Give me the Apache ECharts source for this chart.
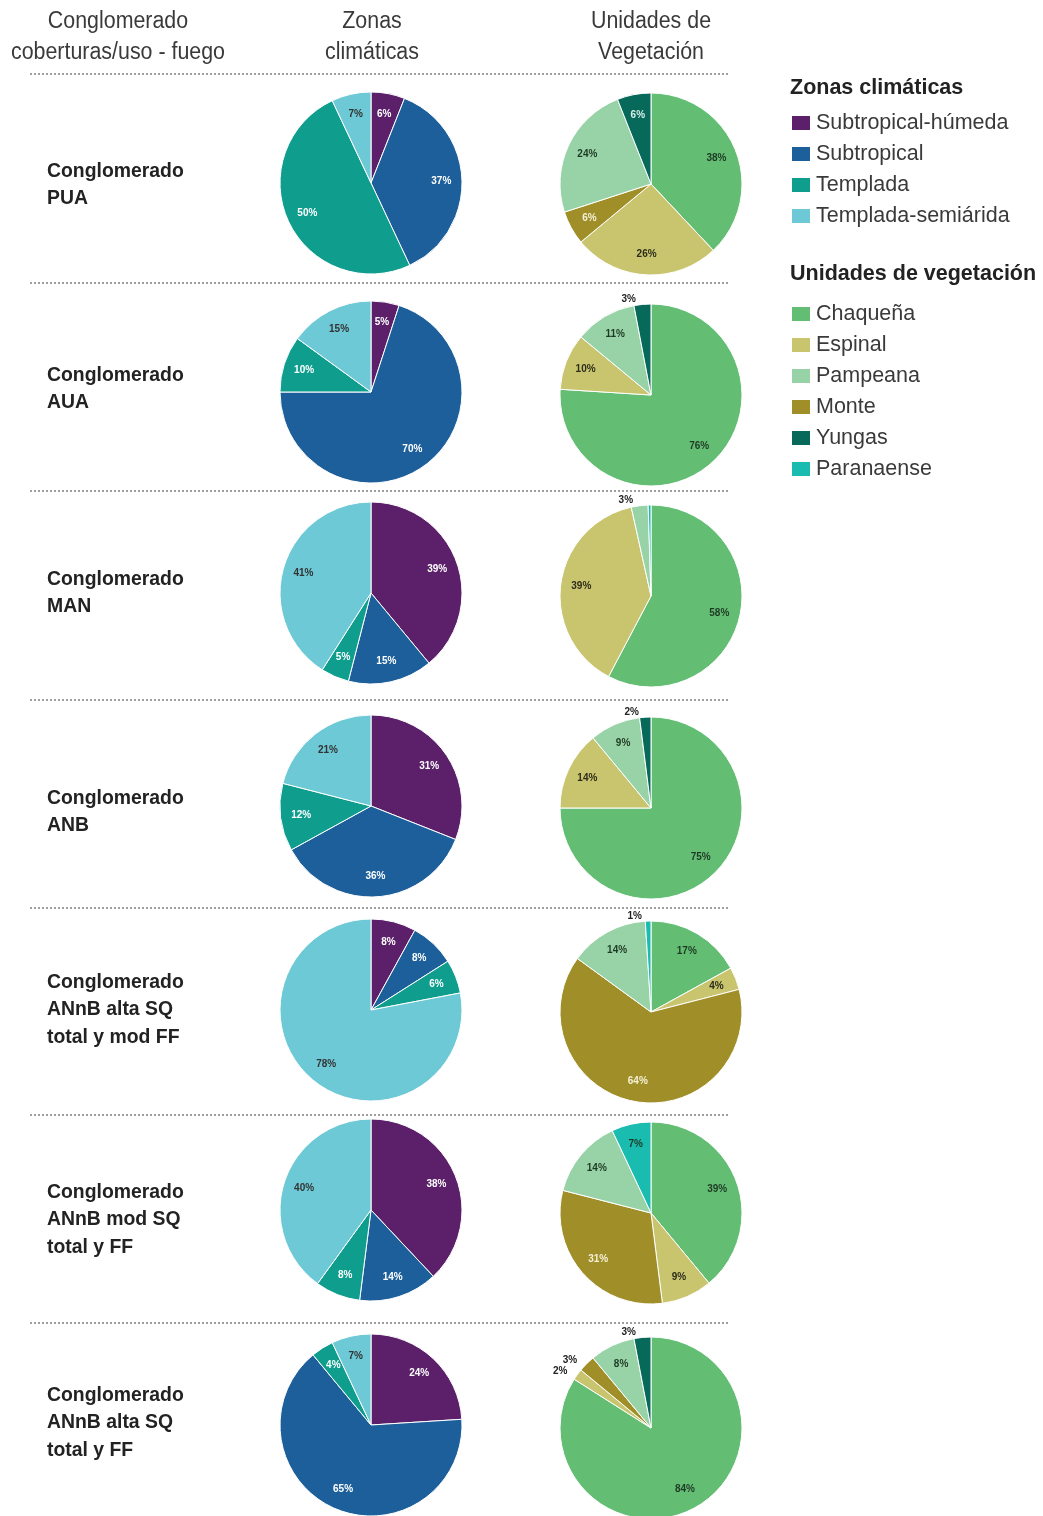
<!DOCTYPE html>
<html>
<head>
<meta charset="utf-8">
<script src="https://cdn.jsdelivr.net/npm/echarts@6/dist/echarts.min.js"></script>
<style>
html,body{margin:0;padding:0;background:#fff;}
#chart{width:1043px;height:1516px;}
</style>
</head>
<body>
<div id="chart"></div>
<script>
// ---------- DATA ----------
const climateNames = ['Subtropical-húmeda', 'Subtropical', 'Templada', 'Templada-semiárida'];
const vegNames = ['Chaqueña', 'Espinal', 'Pampeana', 'Monte', 'Yungas', 'Paranaense'];
const vegPieOrder = ['Chaqueña', 'Espinal', 'Monte', 'Pampeana', 'Yungas', 'Paranaense'];

const rowLabels = [
  ['Conglomerado', 'PUA'],
  ['Conglomerado', 'AUA'],
  ['Conglomerado', 'MAN'],
  ['Conglomerado', 'ANB'],
  ['Conglomerado', 'ANnB alta SQ', 'total y mod FF'],
  ['Conglomerado', 'ANnB mod SQ', 'total y FF'],
  ['Conglomerado', 'ANnB alta SQ', 'total y FF']
];

// climate values, order = climateNames
const climatePUA = [6, 37, 50, 7];
const climateAUA = [5, 70, 10, 15];
const climateMAN = [39, 15, 5, 41];
const climateANB = [31, 36, 12, 21];
const climateANnB1 = [8, 8, 6, 78];
const climateANnB2 = [38, 14, 8, 40];
const climateANnB3 = [24, 65, 4, 7];

// vegetation values, order = vegNames
const vegPUA = [38, 26, 24, 6, 6, 0];
const vegAUA = [76, 10, 11, 0, 3, 0];
const vegMAN = [58, 39, 3, 0, 0, 0.5];
const vegANB = [75, 14, 9, 0, 2, 0];
const vegANnB1 = [17, 4, 14, 64, 0, 1];
const vegANnB2 = [39, 9, 14, 31, 0, 7];
const vegANnB3 = [84, 2, 8, 3, 3, 0];

const climateRows = [climatePUA, climateAUA, climateMAN, climateANB, climateANnB1, climateANnB2, climateANnB3];
const vegRows = [vegPUA, vegAUA, vegMAN, vegANB, vegANnB1, vegANnB2, vegANnB3];

// ---------- STYLE / LAYOUT ----------
const climateColors = {
  'Subtropical-húmeda': '#5b2069',
  'Subtropical': '#1c5f9b',
  'Templada': '#0f9d8e',
  'Templada-semiárida': '#6dc9d5'
};
const vegColors = {
  'Chaqueña': '#63be74',
  'Espinal': '#c9c46e',
  'Pampeana': '#98d3a7',
  'Monte': '#a08f28',
  'Yungas': '#06695a',
  'Paranaense': '#1bbcb0'
};
const labelColors = {
  'Subtropical-húmeda': '#ffffff', 'Subtropical': '#ffffff', 'Templada': '#ffffff', 'Templada-semiárida': '#333333',
  'Chaqueña': '#1f3a24', 'Espinal': '#2d2d1a', 'Pampeana': '#1f3a24', 'Monte': '#f4f0d8', 'Yungas': '#d8eee8', 'Paranaense': '#1f3a24'
};

const leftCx = 371, rightCx = 651, R = 91;
const leftCy = [183, 392, 593, 806, 1010, 1210, 1425];
const rightCy = [184, 395, 596, 808, 1012, 1213, 1428];
const rowTextY = [185, 389, 593, 812, 1010, 1220, 1423];
const sepY = [74, 283, 491, 700, 908, 1115, 1323];

const LABEL_FONT = "'Liberation Sans', Arial, sans-serif";

function buildData(names, values, colors, order) {
  const out = [];
  order.forEach(n => {
    const v = values[names.indexOf(n)];
    if (v > 0) out.push({ name: n, value: v, itemStyle: { color: colors[n] } });
  });
  return out;
}

function pieSeries(data, cx, cy) {
  const base = {
    type: 'pie',
    center: [cx, cy],
    startAngle: 90,
    clockwise: true,
    avoidLabelOverlap: false,
    silent: true,
    animation: false
  };
  const shape = Object.assign({}, base, {
    radius: [0, R],
    itemStyle: { borderColor: '#ffffff', borderWidth: 1 },
    label: { show: false },
    labelLine: { show: false },
    data: data
  });
  const labels = Object.assign({}, base, {
    radius: [R * 0.48, R],
    itemStyle: { color: 'rgba(0,0,0,0)', borderWidth: 0 },
    labelLine: { show: false, length: 5, length2: 1 },
    data: data.map(d => {
      const small = d.value <= 3;
      return {
        name: d.name,
        value: d.value,
        itemStyle: { color: 'rgba(0,0,0,0)' },
        label: {
          show: d.value >= 1,
          position: small ? 'outside' : 'inside',
          color: small ? '#222222' : labelColors[d.name],
          fontSize: 10,
          fontWeight: 'bold',
          fontFamily: LABEL_FONT,
          formatter: p => Math.round(p.value) + '%'
        }
      };
    })
  });
  return [shape, labels];
}

const series = [];
for (let i = 0; i < 7; i++) {
  series.push(...pieSeries(buildData(climateNames, climateRows[i], climateColors, climateNames), leftCx, leftCy[i]));
  series.push(...pieSeries(buildData(vegNames, vegRows[i], vegColors, vegPieOrder), rightCx, rightCy[i]));
}

const graphics = [];
// header
[[118, 'Conglomerado\ncoberturas/uso - fuego'], [372, 'Zonas\nclimáticas'], [651, 'Unidades de\nVegetación']].forEach(h => {
  graphics.push({
    type: 'text', x: h[0], y: 37, scaleX: 0.93, silent: true,
    style: { text: h[1], fill: '#3a3a3a', font: '23px "Liberation Sans", Arial, sans-serif', textAlign: 'center', textVerticalAlign: 'middle', lineHeight: 31 }
  });
});
// separators
sepY.forEach(y => {
  graphics.push({
    type: 'line', silent: true,
    shape: { x1: 30, y1: y, x2: 728, y2: y },
    style: { stroke: '#808080', lineWidth: 1.5, lineDash: [2, 2] }
  });
});
// row labels
rowLabels.forEach((lines, i) => {
  graphics.push({
    type: 'text', x: 47, y: rowTextY[i], silent: true,
    style: { text: lines.join('\n'), fill: '#222222', font: 'bold 19.4px "Liberation Sans", Arial, sans-serif', textAlign: 'left', textVerticalAlign: 'middle', lineHeight: 27.5 }
  });
});
// legend titles
graphics.push({ type: 'text', x: 790, y: 88, silent: true,
  style: { text: 'Zonas climáticas', fill: '#222222', font: 'bold 21.5px "Liberation Sans", Arial, sans-serif', textVerticalAlign: 'middle' } });
graphics.push({ type: 'text', x: 790, y: 274, silent: true,
  style: { text: 'Unidades de vegetación', fill: '#222222', font: 'bold 21.5px "Liberation Sans", Arial, sans-serif', textVerticalAlign: 'middle' } });

const legendText = { color: '#3a3a3a', fontSize: 21.5, lineHeight: 20, fontFamily: '"Liberation Sans", Arial, sans-serif' };

const option = {
  backgroundColor: '#ffffff',
  animation: false,
  legend: [
    { data: climateNames, orient: 'vertical', left: 790, top: 112, icon: 'rect', itemWidth: 20, itemHeight: 16, itemGap: 9, padding: 0, selectedMode: false, textStyle: legendText },
    { data: vegNames, orient: 'vertical', left: 790, top: 303, icon: 'rect', itemWidth: 20, itemHeight: 16, itemGap: 9, padding: 0, selectedMode: false, textStyle: legendText }
  ],
  graphic: graphics,
  series: series
};

const chart = echarts.init(document.getElementById('chart'), null, { renderer: 'canvas' });
chart.setOption(option);
</script>
</body>
</html>
